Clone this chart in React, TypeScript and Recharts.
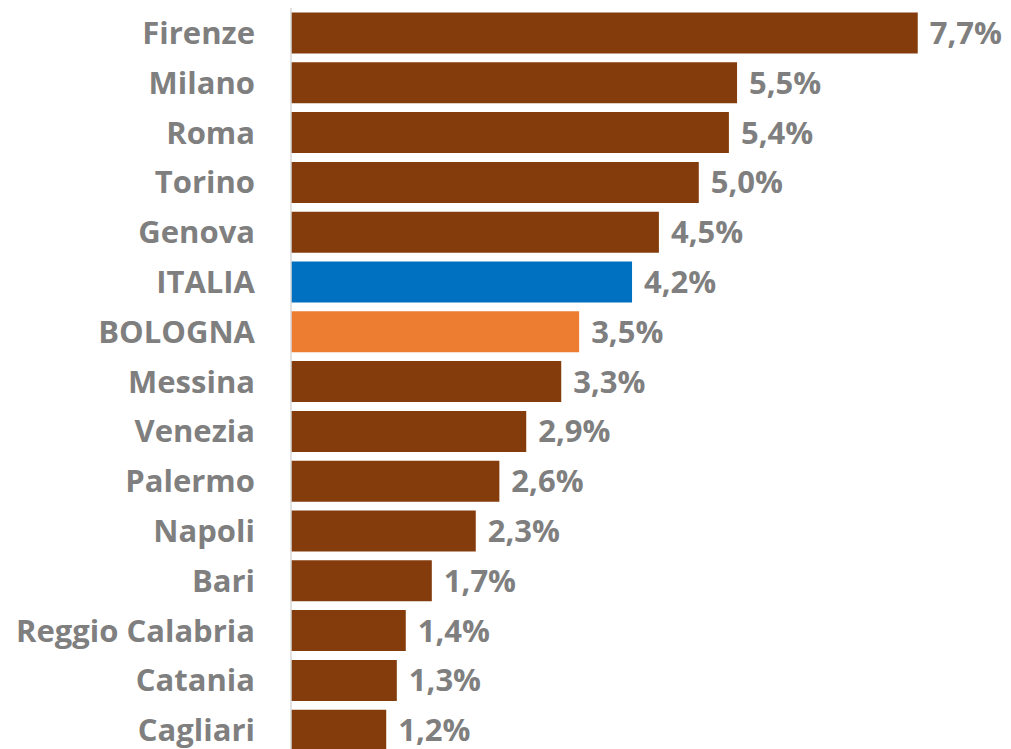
import React from "react";
import { BarChart, Bar, XAxis, YAxis, Cell, LabelList } from "recharts";

const cities = [
  "Firenze", "Milano", "Roma", "Torino", "Genova", "ITALIA", "BOLOGNA", "Messina",
  "Venezia", "Palermo", "Napoli", "Bari", "Reggio Calabria", "Catania", "Cagliari",
];
const values = [7.7, 5.48, 5.38, 5.01, 4.52, 4.19, 3.54, 3.32, 2.89, 2.56, 2.27, 1.73, 1.41, 1.3, 1.17];

const BROWN = "#843C0C";
const BLUE = "#0070C0";
const ORANGE = "#ED7D31";
const TEXT = "#7F7F7F";
const FONT = "'Open Sans', 'Noto Sans', sans-serif";

const data = cities.map((c, i) => ({ city: c, value: values[i] }));

const colorFor = (c: string) => (c === "ITALIA" ? BLUE : c === "BOLOGNA" ? ORANGE : BROWN);

const fmt = (v: any) => `${Number(v).toFixed(1).replace(".", ",")}%`;

export default function App() {
  return (
    <div style={{ width: 1011, height: 749, overflow: "hidden", position: "absolute", left: 0, top: 0, background: "#fff" }}>
      <style>{`body{margin:0}`}</style>
      <BarChart
        width={1011}
        height={755}
        data={data}
        layout="vertical"
        margin={{ top: 8, right: 20, bottom: 0, left: 0 }}
        barCategoryGap="9%"
      >
        <XAxis type="number" domain={[0, 8.6]} hide />
        <YAxis
          type="category"
          dataKey="city"
          width={291}
          tickLine={false}
          tickSize={0}
          tickMargin={36}
          axisLine={{ stroke: "#D9D9D9", strokeWidth: 1.5 }}
          tick={{ fill: TEXT, fontSize: 31, fontWeight: 700, fontFamily: FONT }}
          interval={0}
        />
        <Bar dataKey="value" isAnimationActive={false}>
          {data.map((d) => (
            <Cell key={d.city} fill={colorFor(d.city)} />
          ))}
          <LabelList
            dataKey="value"
            position="right"
            offset={12}
            formatter={fmt}
            style={{ fill: TEXT, fontSize: 31, fontWeight: 700, fontFamily: FONT }}
          />
        </Bar>
      </BarChart>
    </div>
  );
}
